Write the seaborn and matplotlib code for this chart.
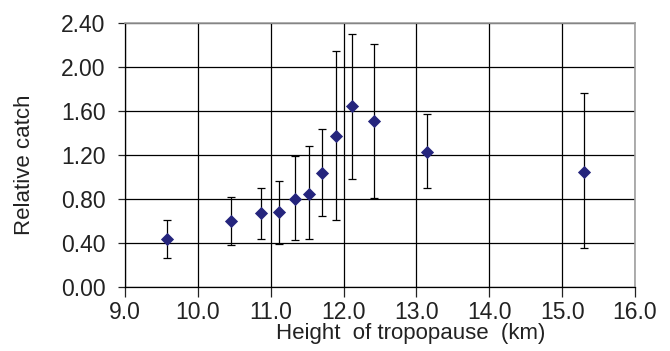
import seaborn as sns
import pandas as pd
import numpy as np
import matplotlib.pyplot as plt

# values
height = [9.57, 10.46, 10.86, 11.12, 11.33, 11.52, 11.71, 11.90, 12.12, 12.42, 13.15, 15.30]
catch = [0.44, 0.60, 0.67, 0.68, 0.80, 0.85, 1.04, 1.37, 1.64, 1.51, 1.23, 1.05]
err_top = [0.61, 0.82, 0.90, 0.96, 1.19, 1.28, 1.44, 2.14, 2.30, 2.21, 1.57, 1.76]
err_bottom = [0.27, 0.38, 0.44, 0.39, 0.43, 0.44, 0.65, 0.61, 0.98, 0.81, 0.90, 0.36]

df = pd.DataFrame({'height': height, 'catch': catch})
lower = np.array(catch) - np.array(err_bottom)
upper = np.array(err_top) - np.array(catch)

sns.set_style('white')
plt.rcParams['font.family'] = ['Liberation Sans', 'DejaVu Sans']

fig = plt.figure(figsize=(6.7, 3.51), dpi=100)
ax = fig.add_axes([0.1866, 0.1815, 0.7612, 0.7538])

ax.errorbar(height, catch, yerr=[lower, upper], fmt='none', ecolor='black',
            elinewidth=0.9, capsize=3, capthick=0.9, zorder=3)
sns.scatterplot(data=df, x='height', y='catch', marker='D', s=45, color='#25257d',
                edgecolor='#25257d', linewidth=0, ax=ax, zorder=4)

ax.set_xlim(9, 16)
ax.set_ylim(0, 2.4)
ax.set_xticks(np.arange(9, 16.5, 1.0))
ax.set_yticks(np.arange(0, 2.41, 0.4))
ax.set_xticklabels([f'{v:.1f}' for v in np.arange(9, 16.5, 1.0)])
ax.set_yticklabels([f'{v:.2f}' for v in np.arange(0, 2.41, 0.4)])
ax.grid(True, color='black', linewidth=0.9)
ax.set_axisbelow(True)

for s in ['left', 'bottom']:
    ax.spines[s].set_color('black')
    ax.spines[s].set_linewidth(0.9)
for s in ['top', 'right']:
    ax.spines[s].set_color('#a0a0a0')
    ax.spines[s].set_linewidth(1.2)

ax.tick_params(axis='both', which='major', labelsize=16.5, colors='#222222', direction='out',
               width=0.9, left=True, bottom=True)
ax.tick_params(axis='y', length=5, pad=9)
ax.tick_params(axis='x', length=7, pad=3)
ax.set_xlabel('Height  of tropopause  (km)', fontsize=16, color='#222222')
ax.set_ylabel('Relative catch', fontsize=16, color='#222222')
ax.xaxis.set_label_coords(0.561, -0.135)
ax.yaxis.set_label_coords(-0.177, 0.462)

fig.savefig('out.png', dpi=100)
